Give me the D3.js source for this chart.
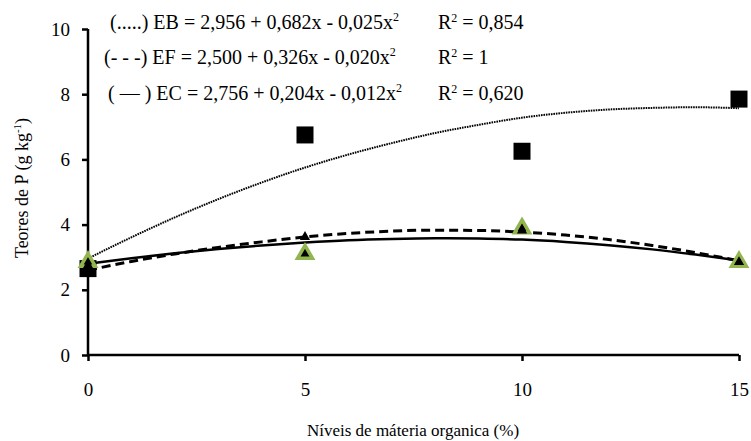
<!DOCTYPE html>
<html>
<head>
<meta charset="utf-8">
<script src="https://cdn.jsdelivr.net/npm/d3@7"></script>
<style>
  body { margin: 0; background: #fff; }
  svg text { font-family: "Liberation Serif", "Times New Roman", Tinos, "DejaVu Serif", "Noto Serif", serif; fill: #000; }
</style>
</head>
<body>
<svg id="chart" width="751" height="441"></svg>
<script>
// levels of organic matter (%)
const levels = [0, 5, 10, 15];
const xTicks = [0, 5, 10, 15];
const yTicks = [0, 2, 4, 6, 8, 10];

// observed points
const ebPoints = [2.65, 6.75, 6.25, 7.85];
const efPoints = [2.75, 3.62, 3.82, 2.85];
const ecPoints = [2.85, 3.1, 3.88, 2.85];

// fitted curves at each integer level
const curveX = [0, 1, 2, 3, 4, 5, 6, 7, 8, 9, 10, 11, 12, 13, 14, 15];
const ebCurve = [2.96, 3.61, 4.22, 4.78, 5.29, 5.75, 6.15, 6.5, 6.81, 7.06, 7.28, 7.43, 7.53, 7.58, 7.6, 7.57];
const efCurve = [2.6, 2.87, 3.1, 3.3, 3.47, 3.62, 3.73, 3.8, 3.83, 3.82, 3.77, 3.68, 3.54, 3.36, 3.14, 2.89];
const ecCurve = [2.8, 2.97, 3.12, 3.25, 3.36, 3.45, 3.52, 3.56, 3.58, 3.57, 3.54, 3.47, 3.37, 3.24, 3.08, 2.9];

const legend = [
  { tag: "(.....) EB = 2,956 + 0,682x - 0,025x", r2: "0,854", x: 110, y: 29 },
  { tag: "(- - -) EF = 2,500 + 0,326x - 0,020x", r2: "1", x: 104, y: 64 },
  { tag: "( \u2014 ) EC = 2,756 + 0,204x - 0,012x", r2: "0,620", x: 108, y: 100 }
];

const svg = d3.select("#chart");
const x = d3.scaleLinear().domain([0, 15]).range([88, 739]);
const y = d3.scaleLinear().domain([0, 10]).range([355, 29]);

// axes
const yAxis = svg.append("g").attr("transform", "translate(88,0)")
  .call(d3.axisLeft(y).tickValues(yTicks).tickSize(6).tickPadding(12));
const xAxis = svg.append("g").attr("transform", "translate(0,355)")
  .call(d3.axisBottom(x).tickValues(xTicks).tickSize(6).tickPadding(22));
[yAxis, xAxis].forEach(g => {
  g.attr("font-family", null).attr("font-size", null);
  g.select(".domain").attr("stroke", "#000").attr("stroke-width", 2.5);
  g.selectAll(".tick line").attr("stroke", "#000").attr("stroke-width", 2.5);
  g.selectAll("text").style("font-size", "19px");
});
yAxis.select(".domain").attr("d", "M0,355V29");
xAxis.select(".domain").attr("d", "M88,0H739");

// curves
const line = d3.line().x((d, i) => x(curveX[i])).y(d => y(d)).curve(d3.curveMonotoneX);
svg.append("path").attr("d", line(ebCurve)).attr("fill", "none")
  .attr("stroke", "#000").attr("stroke-width", 2).attr("stroke-dasharray", "1.6 0.9");
svg.append("path").attr("d", line(efCurve)).attr("fill", "none")
  .attr("stroke", "#000").attr("stroke-width", 3).attr("stroke-dasharray", "9 5");
svg.append("path").attr("d", line(ecCurve)).attr("fill", "none")
  .attr("stroke", "#000").attr("stroke-width", 2.5);

// markers
svg.selectAll(".sq").data(ebPoints).join("path").attr("class", "sq")
  .attr("d", d3.symbol(d3.symbolSquare, 289))
  .attr("transform", (d, i) => `translate(${x(levels[i])},${y(d)})`)
  .attr("fill", "#000");
svg.selectAll(".gt").data(ecPoints).join("path").attr("class", "gt")
  .attr("d", d3.symbol(d3.symbolTriangle, 95))
  .attr("transform", (d, i) => `translate(${x(levels[i])},${y(d)})`)
  .attr("fill", "#000").attr("stroke", "#92b550").attr("stroke-width", 3.5);
svg.selectAll(".bt").data(efPoints).join("path").attr("class", "bt")
  .attr("d", d3.symbol(d3.symbolTriangle, 45))
  .attr("transform", (d, i) => `translate(${x(levels[i])},${y(d)})`)
  .attr("fill", "#000");

// legend equations
legend.forEach(l => {
  const t = svg.append("text").attr("x", l.x).attr("y", l.y).style("font-size", "20px");
  t.append("tspan").text(l.tag);
  t.append("tspan").text("2").attr("dy", -8).style("font-size", "12px");
  const r = svg.append("text").attr("x", 438).attr("y", l.y).style("font-size", "20px");
  r.append("tspan").text("R");
  r.append("tspan").text("2").attr("dy", -7).style("font-size", "12px");
  r.append("tspan").text(" = " + l.r2).attr("dy", 7);
});

// axis titles
const yt = svg.append("text")
  .attr("transform", "translate(28,188) rotate(-90)")
  .attr("text-anchor", "middle").style("font-size", "18px");
yt.append("tspan").text("Teores de P (g kg");
yt.append("tspan").text("-1").attr("dy", -7).style("font-size", "11px");
yt.append("tspan").text(")").attr("dy", 7);

svg.append("text").attr("x", 413).attr("y", 436).attr("text-anchor", "middle")
  .style("font-size", "17px").text("Níveis de máteria organica (%)");
</script>
</body>
</html>
